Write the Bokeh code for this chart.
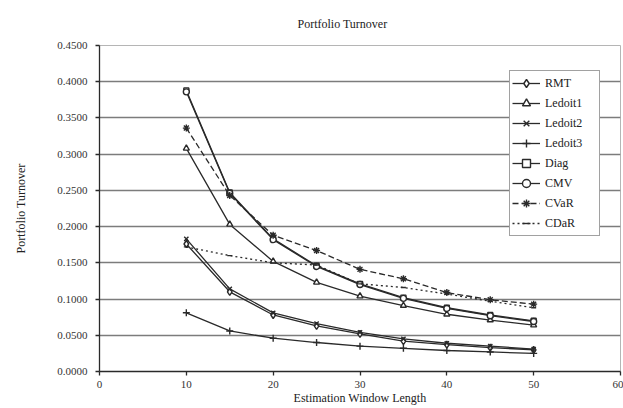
from bokeh.plotting import figure
from bokeh.models import (FixedTicker, NumeralTickFormatter, Legend, LegendItem, Range1d)
from bokeh.embed import file_html
from bokeh.resources import INLINE

window = [10, 15, 20, 25, 30, 35, 40, 45, 50]
rmt = [0.176, 0.110, 0.078, 0.063, 0.052, 0.042, 0.037, 0.033, 0.030]
ledoit1 = [0.308, 0.203, 0.152, 0.123, 0.104, 0.091, 0.079, 0.071, 0.064]
ledoit2 = [0.183, 0.114, 0.081, 0.066, 0.054, 0.045, 0.039, 0.035, 0.031]
ledoit3 = [0.081, 0.056, 0.046, 0.040, 0.035, 0.032, 0.029, 0.027, 0.025]
diag = [0.388, 0.247, 0.183, 0.146, 0.121, 0.102, 0.088, 0.078, 0.070]
cmv = [0.386, 0.246, 0.182, 0.145, 0.120, 0.101, 0.087, 0.077, 0.069]
cvar = [0.336, 0.243, 0.188, 0.167, 0.141, 0.128, 0.109, 0.099, 0.093]
cdar = [0.172, 0.160, 0.150, 0.147, 0.121, 0.116, 0.107, 0.097, 0.088]

x_ticks = [0, 10, 20, 30, 40, 50, 60]
y_ticks = [0.0, 0.05, 0.10, 0.15, 0.20, 0.25, 0.30, 0.35, 0.40, 0.45]

SERIF = "Liberation Serif"
INK = "#2a2a2a"

p = figure(width=623, height=408, output_backend="svg", toolbar_location=None,
           x_range=Range1d(0, 60), y_range=Range1d(0, 0.45),
           min_border_left=99, min_border_right=3, min_border_top=43, min_border_bottom=37,
           title="Portfolio Turnover")
p.title.text_font = SERIF
p.title.text_font_size = "12px"
p.title.text_font_style = "normal"
p.title.text_color = "#222222"
p.title.align = "left"
p.title.offset = 198
p.title.standoff = 29

p.outline_line_color = "#b5b5b5"
p.outline_line_width = 1
p.background_fill_color = "white"
p.border_fill_color = "white"

p.xgrid.grid_line_color = None
p.ygrid.grid_line_color = "#7c7c7c"
p.ygrid.grid_line_width = 1.6

p.xaxis.ticker = FixedTicker(ticks=x_ticks)
p.yaxis.ticker = FixedTicker(ticks=y_ticks)
p.yaxis.formatter = NumeralTickFormatter(format="0.0000")
for ax in (p.xaxis[0], p.yaxis[0]):
    ax.axis_line_color = INK
    ax.axis_line_width = 1.3
    ax.major_tick_line_color = INK
    ax.major_tick_line_width = 1.3
    ax.major_tick_in = 0
    ax.major_tick_out = 4
    ax.minor_tick_line_color = None
    ax.major_label_text_font = SERIF
    ax.major_label_text_font_size = "11px"
    ax.major_label_text_color = "#333333"
    ax.axis_label_text_font = SERIF
    ax.axis_label_text_font_size = "12px"
    ax.axis_label_text_font_style = "normal"
    ax.axis_label_text_color = "#222222"
p.xaxis.axis_label = "Estimation Window Length"
p.yaxis.axis_label = "Portfolio Turnover"
p.xaxis.major_label_standoff = 5
p.xaxis.axis_label_standoff = 0
p.yaxis.major_label_standoff = 8
p.yaxis.axis_label_standoff = 26

series = [
    ("RMT", rmt, "diamond", "solid", 7),
    ("Ledoit1", ledoit1, "triangle", "solid", 6),
    ("Ledoit2", ledoit2, "x", "solid", 6),
    ("Ledoit3", ledoit3, "cross", "solid", 7),
    ("Diag", diag, "square", "solid", 5),
    ("CMV", cmv, "circle", "solid", 6),
    ("CVaR", cvar, "asterisk", "dashed", 7),
    ("CDaR", cdar, "dash", "dotted", 5),
]

items = []
for name, vals, marker, dash, size in series:
    dash_str = {"solid": "solid", "dashed": "6 3", "dotted": "2 3"}[dash]
    lr = p.line(window, vals, line_color=INK, line_width=1.3, line_dash=dash_str)
    sr = p.scatter(window, vals, marker=marker, size=size, line_color=INK,
                   line_width=1.4, fill_color="white")
    items.append(LegendItem(label=name, renderers=[lr, sr]))

legend = Legend(items=items, location=(410, 135), orientation="vertical")
legend.label_text_font = SERIF
legend.label_text_font_size = "12px"
legend.label_text_color = "#222222"
legend.label_height = 20
legend.glyph_height = 20
legend.glyph_width = 28
legend.label_width = 52
legend.label_standoff = 5
legend.spacing = 0
legend.padding = 2
legend.margin = 0
legend.border_line_color = "#444444"
legend.border_line_width = 1.3
legend.background_fill_color = "white"
legend.background_fill_alpha = 1.0
p.add_layout(legend, "center")

open("out.html", "w").write(file_html(p, INLINE))
